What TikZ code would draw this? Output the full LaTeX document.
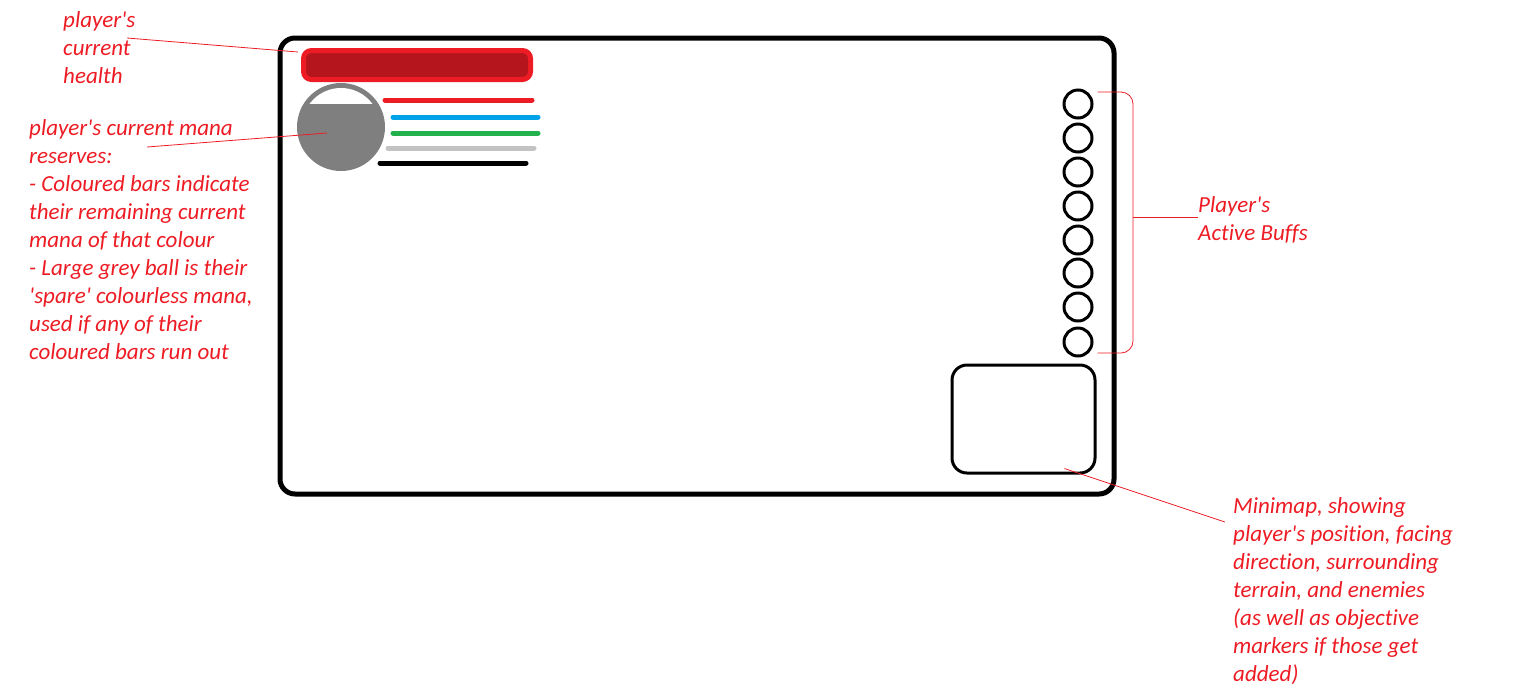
\documentclass[tikz,border=0pt]{standalone}
\usepackage{fontspec}
\setmainfont{Carlito}[Ligatures={TeX,NoCommon}]
\usetikzlibrary{calc}
\definecolor{notered}{RGB}{237,28,36}
\definecolor{healthdark}{RGB}{181,22,30}
\definecolor{manablue}{RGB}{0,162,232}
\definecolor{managreen}{RGB}{34,177,76}
\definecolor{managrey}{RGB}{195,195,195}
\definecolor{ballgrey}{RGB}{127,127,127}
\newcommand{\q}{\textquotesingle}

\begin{document}
\begin{tikzpicture}[x=1pt, y=-1pt,
  note/.style={text=notered, font=\fontsize{23}{28}\selectfont\itshape, align=left, inner sep=0pt, anchor=north west},
  pointer/.style={draw=notered, line width=0.8pt},
  manabar/.style={line width=5pt, line cap=round},
  buff/.style={circle, draw, line width=3pt, minimum size=28pt, inner sep=0pt}]
\useasboundingbox (0,0) rectangle (1514,689);
% screen frame
\node[name=screen, draw, line width=5pt, rounded corners=15pt, minimum width=834pt, minimum height=456pt] at (697,266) {};
% health and mana
\node[name=health, draw=notered, fill=healthdark, line width=5pt, rounded corners=8pt, minimum width=227pt, minimum height=29pt, inner sep=0pt] at (417,65) {};
\node[name=ball, circle, fill=ballgrey, minimum size=88pt, inner sep=0pt] at (341,127) {};
\begin{scope}
  \clip (ball.center) circle (39pt);
  \fill[white] (298,83) rectangle (385,104);
\end{scope}
\draw[manabar, notered] (385,100) -- (532,100);
\draw[manabar, manablue] (393,117) -- (538,117);
\draw[manabar, managreen] (393,133) -- (538,133);
\draw[manabar, managrey] (388,148) -- (534,148);
\draw[manabar, black] (380,163) -- (526,163);
% buffs
\foreach \i/\y in {1/104,2/138,3/172,4/206,5/240,6/273,7/307,8/342}
  \node[buff, name=buff\i] at (1078,\y) {};
% minimap
\node[name=minimap, draw, line width=3pt, rounded corners=15pt, minimum width=143pt, minimum height=108pt] at (1023.5,419) {};
% notes
\node[note, name=healthnote] at (63,11) {player\q s\\current\\health};
\node[note, name=mananote] at (29,119) {player\q s current mana\\reserves:\\- Coloured bars indicate\\their remaining current\\mana of that colour\\- Large grey ball is their\\\q spare\q{} colourless mana,\\used if any of their\\coloured bars run out};
\node[note, name=buffnote] at (1198,196) {Player\q s\\Active Buffs};
\node[note, name=mapnote] at (1233,497) {Minimap, showing\\player\q s position, facing\\direction, surrounding\\terrain, and enemies\\(as well as objective\\markers if those get\\added)};
% pointers
\coordinate (healthtip) at (127,38);
\coordinate (manatip) at (147,147);
\coordinate (maptip) at (1225,522);
\coordinate (brtop) at ($(buff1.east)+(4,-12)$);
\coordinate (brbot) at ($(buff8.east)+(4,11)$);
\coordinate (brmid) at (1133,217);
\draw[pointer] (healthtip) -- ($(health.north west)+(-3,4)$);
\draw[pointer] (manatip) -- ($(ball.center)+(-14,6)$);
\draw[pointer] ($(minimap.south east)+(-32,-6)$) -- (maptip);
\draw[pointer, rounded corners=12pt] (brtop) -- (brtop-|brmid) -- (brbot-|brmid) -- (brbot);
\draw[pointer] (brmid) -- (buffnote.west|-brmid);
\end{tikzpicture}
\end{document}
